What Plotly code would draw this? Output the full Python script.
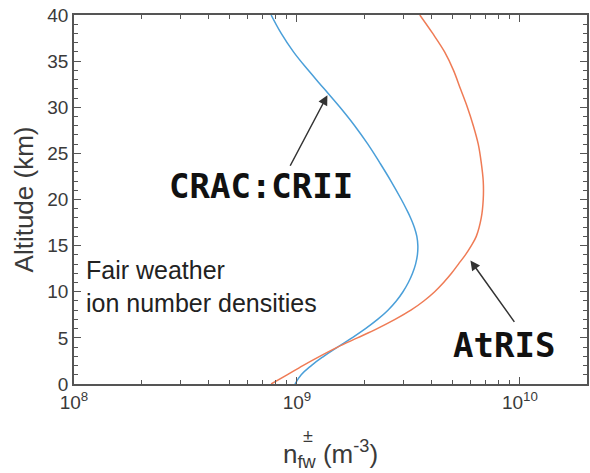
import numpy as np
import plotly.graph_objects as go

# Fair-weather ion number density profiles (m^-3) versus altitude (km)
alt_crac = [0, 1, 2, 3, 4, 5, 6, 7, 8, 9, 10, 11, 12, 13, 14, 15, 16, 17, 18, 19, 20,
            22, 24, 26, 28, 30, 32, 34, 36, 38, 40]
n_crac = [9.80e8, 1.045e9, 1.160e9, 1.318e9, 1.521e9, 1.765e9, 2.030e9, 2.300e9, 2.560e9, 2.790e9,
          2.990e9, 3.160e9, 3.300e9, 3.405e9, 3.470e9, 3.486e9, 3.450e9, 3.360e9, 3.235e9, 3.090e9,
          2.940e9, 2.640e9, 2.350e9, 2.080e9, 1.815e9, 1.560e9, 1.325e9, 1.125e9, 9.65e8, 8.50e8, 7.66e8]

alt_atris = [0, 1, 2, 3, 4, 5, 6, 7, 8, 9, 10, 11, 12, 13, 14, 15, 16, 18, 20, 22, 24, 26, 28,
             30, 32, 34, 36, 38, 40]
n_atris = [7.66e8, 9.03e8, 1.063e9, 1.265e9, 1.521e9, 1.867e9, 2.291e9, 2.754e9, 3.244e9, 3.706e9,
           4.148e9, 4.549e9, 4.935e9, 5.302e9, 5.696e9, 6.056e9, 6.374e9, 6.709e9, 6.848e9, 6.848e9,
           6.709e9, 6.505e9, 6.181e9, 5.813e9, 5.412e9, 5.038e9, 4.595e9, 4.064e9, 3.557e9]

x_major = [1e8, 1e9, 1e10]
x_major_text = ["10<sup>8</sup>", "10<sup>9</sup>", "10<sup>10</sup>"]
x_minor = [m * 10 ** e for e in (8, 9) for m in range(2, 10)] + [2e10]

BLUE = "#4a9fd9"
ORANGE = "#ef7b55"
AXIS = "#555555"
TEXT = "#3a3a3a"
SANS = "Liberation Sans, Arial"
MONO = "DejaVu Sans Mono"

fig = go.Figure()
fig.add_trace(go.Scatter(x=n_crac, y=alt_crac, mode="lines", name="CRAC:CRII",
                         line=dict(color=BLUE, width=1.5, shape="spline", smoothing=1.2)))
fig.add_trace(go.Scatter(x=n_atris, y=alt_atris, mode="lines", name="AtRIS",
                         line=dict(color=ORANGE, width=1.5, shape="spline", smoothing=1.0)))

# Arrows pointing at each curve
arrow = dict(text="", showarrow=True, xref="x", yref="y", arrowhead=2, arrowsize=1.3,
             arrowwidth=1.5, arrowcolor="#333333")
fig.add_annotation(x=np.log10(1.37e9), y=31.3, ax=-38, ay=72, **arrow)
fig.add_annotation(x=np.log10(6.0e9), y=13.4, ax=45, ay=63, **arrow)

# Curve labels and description
fig.add_annotation(x=0.365, y=0.537, xref="paper", yref="paper", xanchor="center", yanchor="middle",
                   text="<b>CRAC:CRII</b>", showarrow=False,
                   font=dict(family=MONO, size=34, color="#111111"))
fig.add_annotation(x=0.839, y=0.106, xref="paper", yref="paper", xanchor="center", yanchor="middle",
                   text="<b>AtRIS</b>", showarrow=False,
                   font=dict(family=MONO, size=34, color="#111111"))
fig.add_annotation(x=0.02, y=0.263, xref="paper", yref="paper", xanchor="left", yanchor="middle",
                   align="left", text="Fair weather<br>ion number densities", showarrow=False,
                   font=dict(family=SANS, size=25, color="#222222"))

# x-axis title: n with stacked ± superscript and fw subscript
fig.add_annotation(x=0.5, y=0, xref="paper", yref="paper", xanchor="center", yanchor="top",
                   yshift=-50, text="n<sub>fw</sub> (m<sup>-3</sup>)", showarrow=False,
                   font=dict(family=SANS, size=26, color=TEXT))
fig.add_annotation(x=0.456, y=0, xref="paper", yref="paper", xanchor="center", yanchor="middle",
                   yshift=-52, text="±", showarrow=False,
                   font=dict(family=SANS, size=18, color=TEXT))

fig.update_layout(
    width=590, height=473,
    margin=dict(l=74, r=1, t=15, b=89),
    paper_bgcolor="white", plot_bgcolor="white",
    showlegend=False,
    font=dict(family=SANS, color=TEXT),
)
fig.update_xaxes(
    type="log", range=[8, np.log10(2e10)],
    tickmode="array", tickvals=x_major, ticktext=x_major_text,
    tickfont=dict(size=19, color=TEXT),
    ticks="inside", ticklen=7, tickwidth=1, tickcolor=AXIS,
    minor=dict(tickvals=x_minor, ticks="inside", ticklen=4, tickcolor=AXIS),
    showline=True, linecolor=AXIS, linewidth=1.5, mirror="ticks",
    showgrid=False, zeroline=False,
)
fig.update_yaxes(
    range=[0, 40], tickmode="linear", tick0=0, dtick=5,
    tickfont=dict(size=19, color=TEXT),
    ticks="inside", ticklen=7, tickwidth=1, tickcolor=AXIS,
    minor=dict(dtick=1, ticks="inside", ticklen=4, tickcolor=AXIS),
    showline=True, linecolor=AXIS, linewidth=1.5, mirror="ticks",
    showgrid=False, zeroline=False,
    title=dict(text="Altitude (km)", font=dict(size=26, color=TEXT), standoff=6),
)

fig.write_html("out.html")
